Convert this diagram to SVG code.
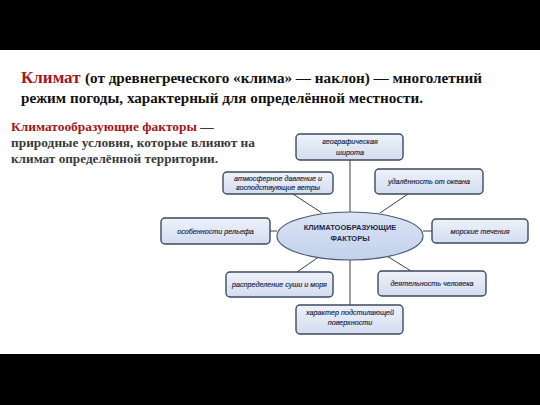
<svg xmlns="http://www.w3.org/2000/svg" width="540" height="405" viewBox="0 0 540 405">
<defs>
<linearGradient id="boxg" x1="0" y1="0" x2="0" y2="1">
<stop offset="0" stop-color="#eef2fa"/>
<stop offset="1" stop-color="#d3ddf0"/>
</linearGradient>
<linearGradient id="ellg" x1="0" y1="0" x2="0" y2="1">
<stop offset="0" stop-color="#dbe4f5"/>
<stop offset="1" stop-color="#c3d1ec"/>
</linearGradient>
<style>
.box{fill:url(#boxg);stroke:#3e4a5f;stroke-width:1.4}
.lbl{font-family:"Liberation Sans",Arial,sans-serif;font-style:italic;font-size:7.2px;fill:#1a2238;text-anchor:middle;stroke:#1a2238;stroke-width:0.15}
.conn line{stroke:#3a3f4a;stroke-width:1}
.head{font-family:"Liberation Serif","Times New Roman",serif;font-weight:bold}
</style>
</defs>
<rect x="0" y="0" width="540" height="405" fill="#ffffff"/>
<rect x="0" y="0" width="540" height="50" fill="#000000"/>
<rect x="0" y="354" width="540" height="51" fill="#000000"/>

<g id="title">
<text class="head" x="21" y="83" font-size="17" fill="#a3161a">Климат</text>
<text class="head" x="85" y="83" font-size="15" fill="#111111" textLength="397" lengthAdjust="spacingAndGlyphs">(от древнегреческого «клима» — наклон) — многолетний</text>
<text class="head" x="21" y="103" font-size="15.5" fill="#111111" textLength="402" lengthAdjust="spacingAndGlyphs">режим погоды, характерный для определённой местности.</text>
</g>
<g id="definition">
<text class="head" x="11" y="131" font-size="13.4" fill="#3a3a3a"><tspan fill="#a3161a">Климатообразующие факторы</tspan> —</text>
<text class="head" x="11" y="147" font-size="13.4" fill="#3a3a3a" textLength="244" lengthAdjust="spacingAndGlyphs">природные условия, которые влияют на</text>
<text class="head" x="11" y="163" font-size="13.4" fill="#3a3a3a" textLength="207" lengthAdjust="spacingAndGlyphs">климат определённой территории.</text>
</g>

<g id="connectors" class="conn">
<line x1="350" y1="160" x2="350" y2="212"/>
<line x1="293" y1="194" x2="322" y2="213"/>
<line x1="408" y1="194" x2="380" y2="213"/>
<line x1="270" y1="231" x2="277" y2="231"/>
<line x1="423" y1="231" x2="432" y2="231"/>
<line x1="297" y1="272" x2="323" y2="254"/>
<line x1="382" y1="253" x2="411" y2="271"/>
<line x1="350" y1="260" x2="350" y2="305"/>
</g>

<g id="center">
<ellipse cx="350" cy="236" rx="73" ry="24" fill="url(#ellg)" stroke="#4a5872" stroke-width="1.2"/>
<text x="350" y="229.5" font-family="'Liberation Sans',Arial,sans-serif" font-weight="bold" font-size="7.5" fill="#1e2840" text-anchor="middle">КЛИМАТООБРАЗУЮЩИЕ</text>
<text x="350" y="241" font-family="'Liberation Sans',Arial,sans-serif" font-weight="bold" font-size="7.5" fill="#1e2840" text-anchor="middle">ФАКТОРЫ</text>
</g>

<g id="n-latitude">
<rect class="box" x="296" y="134" width="107" height="26" rx="4"/>
<text class="lbl" x="350" y="144">географическая</text>
<text class="lbl" x="350" y="155">широта</text>
</g>
<g id="n-pressure">
<rect class="box" x="223" y="172" width="110" height="22" rx="4"/>
<text class="lbl" x="278" y="180.5">атмосферное давление и</text>
<text class="lbl" x="278" y="189.5">господствующие ветры</text>
</g>
<g id="n-ocean">
<rect class="box" x="375" y="169" width="108" height="25" rx="4"/>
<text class="lbl" x="429" y="184">удалённость от океана</text>
</g>
<g id="n-relief">
<rect class="box" x="161" y="218" width="109" height="26" rx="4"/>
<text class="lbl" x="215.5" y="233.5">особенности рельефа</text>
</g>
<g id="n-currents">
<rect class="box" x="432" y="219" width="96" height="24" rx="4"/>
<text class="lbl" x="480" y="233.5">морские течения</text>
</g>
<g id="n-land-sea">
<rect class="box" x="226" y="272" width="107" height="25" rx="4"/>
<text class="lbl" x="279.5" y="287">распределение суши и моря</text>
</g>
<g id="n-human">
<rect class="box" x="378" y="271" width="108" height="25" rx="4"/>
<text class="lbl" x="432" y="286">деятельность человека</text>
</g>
<g id="n-surface">
<rect class="box" x="296" y="305" width="107" height="29" rx="4"/>
<text class="lbl" x="350" y="315">характер подстилающей</text>
<text class="lbl" x="350" y="325">поверхности</text>
</g>
</svg>
